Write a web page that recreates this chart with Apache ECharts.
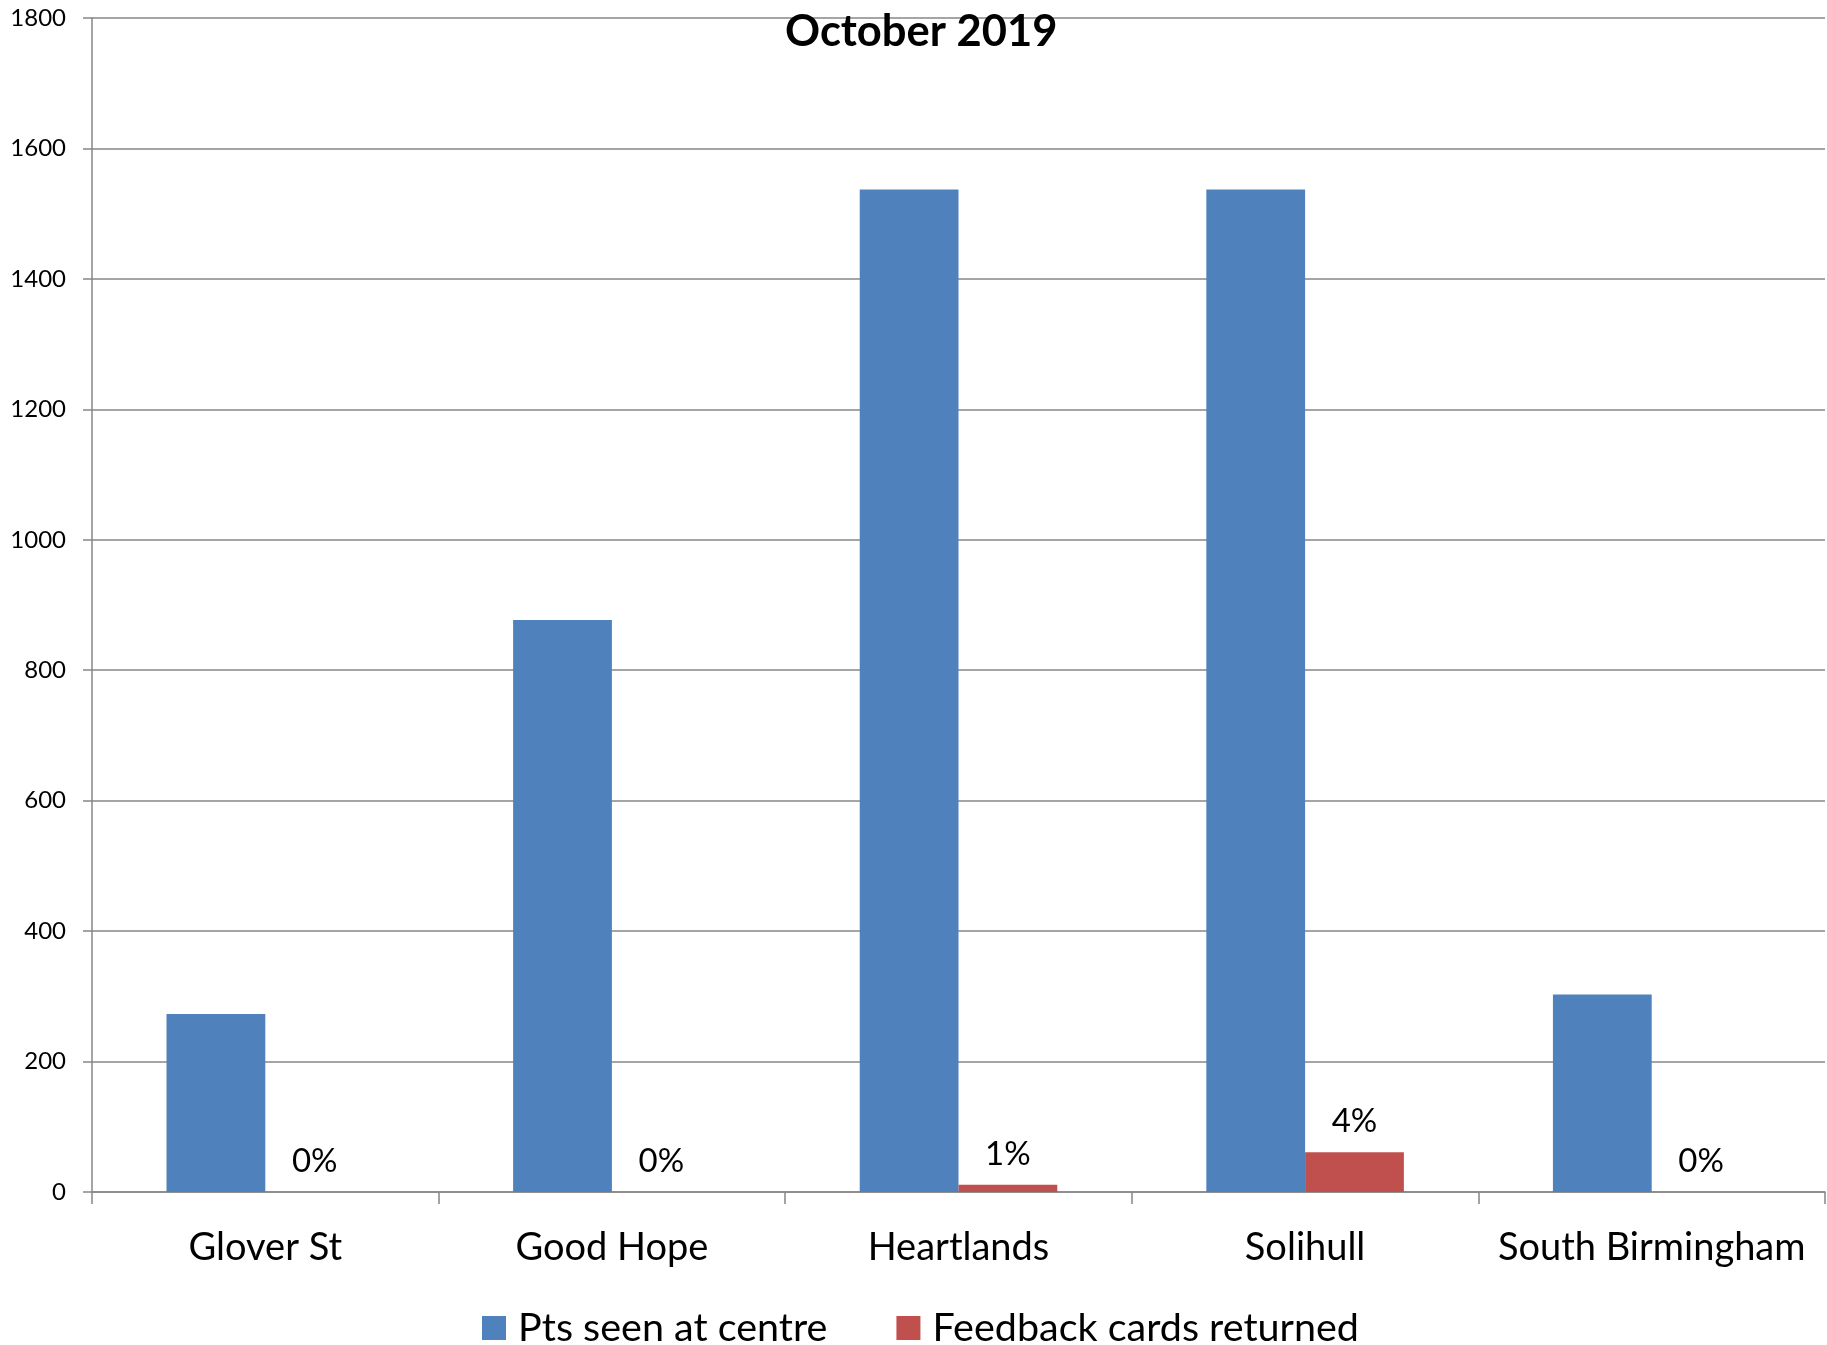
<!DOCTYPE html>
<html>
<head>
<meta charset="utf-8">
<script src="https://cdn.jsdelivr.net/npm/echarts@6/dist/echarts.min.js"></script>
<style>
html,body{margin:0;padding:0;background:#fff;}
#chart{width:1827px;height:1345px;}
</style>
</head>
<body>
<div id="chart"></div>
<script>
const chartTitle = 'October 2019';
const categories = ['Glover St', 'Good Hope', 'Heartlands', 'Solihull', 'South Birmingham'];
const seriesNames = ['Pts seen at centre', 'Feedback cards returned'];
const ptsSeen = [273, 877, 1537, 1537, 303];
const feedbackCards = [0, 0, 11, 61, 0];
const feedbackPctLabels = ['0%', '0%', '1%', '4%', '0%'];
const yMin = 0, yMax = 1800, yInterval = 200;

const FONT = 'Lato';
const grey = '#878787';
const chart = echarts.init(document.getElementById('chart'), null, {renderer: 'canvas'});
chart.setOption({
  animation: false,
  backgroundColor: '#fff',
  textStyle: {fontFamily: FONT, color: '#000'},
  title: {
    text: chartTitle,
    left: 780,
    top: 5,
    textStyle: {fontFamily: FONT, fontWeight: 'bold', fontSize: 43.5, color: '#000'}
  },
  legend: {
    left: 477,
    top: 1303,
    itemWidth: 24,
    itemHeight: 24,
    itemGap: 69,
    icon: 'rect',
    textStyle: {fontFamily: FONT, fontSize: 39.5, color: '#000', padding: [0, 0, 0, 7]},
    data: seriesNames
  },
  grid: {left: 92, right: 2, top: 18, bottom: 153, containLabel: false},
  xAxis: {
    type: 'category',
    data: categories,
    boundaryGap: true,
    axisLine: {show: true, lineStyle: {color: grey, width: 1.5}},
    axisTick: {show: true, length: 12, alignWithLabel: false, lineStyle: {color: grey, width: 1.5}},
    axisLabel: {fontFamily: FONT, fontSize: 38, color: '#000', margin: 37, interval: 0}
  },
  yAxis: {
    type: 'value',
    min: yMin,
    max: yMax,
    interval: yInterval,
    axisLine: {show: true, lineStyle: {color: grey, width: 1.5}},
    axisTick: {show: true, length: 9, lineStyle: {color: grey, width: 1.5}},
    axisLabel: {fontFamily: FONT, fontSize: 24, color: '#000', margin: 26, formatter: v => String(v)},
    splitLine: {show: true, lineStyle: {color: grey, width: 1.5}}
  },
  series: [
    {
      name: seriesNames[0],
      type: 'bar',
      data: ptsSeen,
      barGap: '0%',
      barCategoryGap: '43%',
      itemStyle: {color: '#4F81BD'}
    },
    {
      name: seriesNames[1],
      type: 'bar',
      data: feedbackCards,
      barGap: '0%',
      barCategoryGap: '43%',
      itemStyle: {color: '#C0504D'},
      label: {
        show: true,
        position: 'top',
        distance: 14,
        fontFamily: FONT,
        fontSize: 33,
        color: '#000',
        formatter: p => feedbackPctLabels[p.dataIndex]
      }
    }
  ]
});
</script>
</body>
</html>
